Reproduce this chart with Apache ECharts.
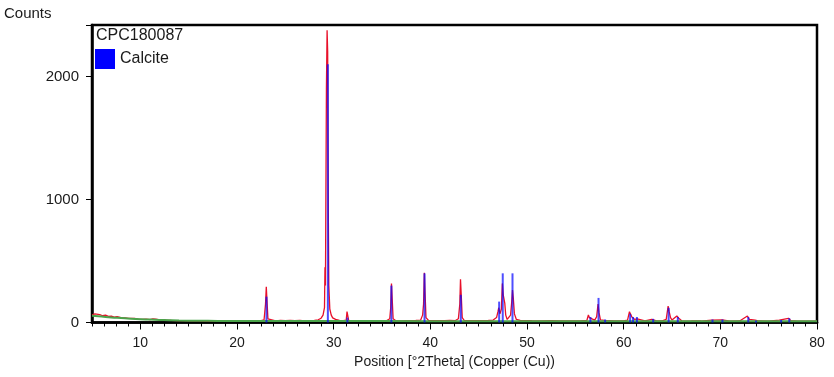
<!DOCTYPE html>
<html>
<head>
<meta charset="utf-8">
<script src="https://cdn.jsdelivr.net/npm/echarts@6/dist/echarts.min.js"></script>
<style>
html,body{margin:0;padding:0;background:#fff;}
#chart{width:834px;height:377px;}
</style>
</head>
<body>
<div id="chart"></div>
<script>
// Observed pattern (red)
const obsTheta = [5.0,5.3,5.5,5.8,6.1,6.4,6.7,7.0,7.3,7.6,8.0,8.4,8.8,8.9,9.0,9.4,9.8,10.2,10.6,11.0,11.3,11.6,12.0,12.4,12.7,13.2,13.8,14.5,15.2,16.0,17.0,18.0,19.0,19.5,20.0,20.5,21.0,21.5,22.0,22.5,22.8,22.95,23.03,23.1,23.2,23.4,24.0,24.5,25.0,25.5,26.0,26.5,27.0,27.5,28.0,28.4,28.7,28.9,29.05,29.1,29.15,29.25,29.32,29.38,29.42,29.45,29.5,29.6,29.75,29.9,30.2,30.6,31.0,31.3,31.38,31.45,31.55,32.0,32.5,33.0,33.5,34.0,34.5,35.0,35.5,35.8,35.9,35.98,36.05,36.15,36.4,37.0,37.5,38.0,38.5,39.0,39.2,39.3,39.38,39.45,39.55,39.8,40.5,41.0,41.5,42.0,42.6,42.9,43.05,43.12,43.2,43.3,43.5,44.0,44.5,45.0,45.5,46.0,46.5,46.85,47.0,47.08,47.2,47.35,47.45,47.55,47.7,47.8,47.95,48.1,48.3,48.42,48.5,48.58,48.7,48.9,49.3,49.8,50.5,51.5,52.5,53.5,54.5,55.5,56.2,56.35,56.45,56.6,57.0,57.2,57.35,57.45,57.6,58.0,58.1,58.2,59.0,60.0,60.4,60.6,60.7,60.85,61.0,61.15,61.4,61.6,62.2,62.9,63.1,63.4,64.0,64.4,64.6,64.7,64.85,65.0,65.5,65.7,66.0,67.0,68.0,69.1,69.3,70.2,70.4,71.0,72.0,72.8,73.0,73.6,74.0,75.0,76.1,76.3,77.05,77.3,78.0,79.0,80.0];
const obsCounts = [62,70,58,64,55,60,50,52,44,47,40,38,34,48,30,33,28,26,27,24,30,28,22,24,18,17,16,15,14,13,12,12,11,16,13,14,15,14,16,15,22,150,291,180,30,16,14,18,15,17,15,18,14,16,18,22,35,60,120,450,300,1900,2378,2200,1400,850,300,110,60,38,25,18,16,20,88,60,18,15,16,14,15,14,15,14,16,30,120,318,200,30,16,14,16,15,17,20,60,150,405,250,40,18,15,16,15,17,16,30,150,351,220,40,18,15,16,15,16,17,20,40,90,120,70,110,318,220,158,60,25,22,60,169,264,200,70,25,18,16,15,14,15,14,13,14,18,61,40,25,20,45,150,80,22,18,30,15,13,14,20,88,70,45,40,25,30,15,13,26,20,13,14,25,134,90,40,20,53,35,14,12,12,20,12,22,12,11,12,53,25,20,12,11,20,12,34,15,11,10,10];

// Background (green)
const bgTheta = [5,6,7,8,9,10,11,12,13,14,16,18,20,25,30,40,50,60,70,80];
const bgCounts = [55,48,41,36,31,27,24,21,18,16,14,13,12,12,12,11,11,11,10,10];

// Calcite reference lines (blue)
const refTheta = [23.05,29.40,31.42,35.97,39.40,43.15,47.12,47.49,48.50,56.56,57.40,58.08,60.67,60.97,61.37,63.05,64.65,65.60,69.19,70.22,72.89,73.69,76.29,77.13];
const refCounts = [210,2100,40,300,400,225,170,400,400,45,200,25,70,45,45,30,120,45,25,25,45,15,20,35];

const xTickLabels = [10,20,30,40,50,60,70,80];
const yTickLabels = [0,1000,2000];

const font = 'Liberation Sans, Arial, sans-serif';
const zip = (a,b) => a.map((v,i)=>[v,b[i]]);

const chart = echarts.init(document.getElementById('chart'), null, {renderer:'canvas'});
chart.setOption({
  animation: false,
  backgroundColor: '#ffffff',
  title: [
    {text:'Counts', left:4, top:6, padding:0, textStyle:{fontFamily:font, fontSize:15, fontWeight:'normal', color:'#1a1a1a'}},
    {text:'CPC180087', left:96, top:28, padding:0, textStyle:{fontFamily:font, fontSize:16, fontWeight:'normal', color:'#1a1a1a'}}
  ],
  legend: {
    left: 95, top: 49, padding:0, orient:'vertical', itemWidth:20, itemHeight:20, itemGap:4,
    textStyle:{fontFamily:font, fontSize:16, color:'#1a1a1a'},
    data:[{name:'Calcite', icon:'rect', itemStyle:{color:'#0000ff', opacity:1}}],
    selectedMode:false
  },
  grid: {left:92, right:17, top:25, bottom:54.5, show:true, borderColor:'#000', borderWidth:2.5, backgroundColor:'transparent'},
  xAxis: [{
    type:'value', min:5, max:80, interval:1.25, position:'bottom',
    name:'Position [°2Theta] (Copper (Cu))', nameLocation:'middle', nameGap:33,
    nameTextStyle:{fontFamily:font, fontSize:14, color:'#1a1a1a'},
    axisLine:{show:true, onZero:false, lineStyle:{color:'#000', width:2.5}},
    axisTick:{show:true, length:4, lineStyle:{color:'#000', width:1}},
    axisLabel:{fontFamily:font, fontSize:14, color:'#1a1a1a', margin:14,
      formatter: v => (xTickLabels.indexOf(Math.round(v*100)/100) >= 0 ? String(v) : '')},
    splitLine:{show:false}
  },{
    type:'value', min:5, max:80, interval:1.25, position:'bottom',
    axisLine:{show:false},
    axisTick:{show:true, length:7, customValues: xTickLabels, lineStyle:{color:'#000', width:1}},
    axisLabel:{show:false},
    splitLine:{show:false}
  }],
  yAxis: {
    type:'value', min:0, max:2420, interval:1000,
    axisLine:{show:true, onZero:false, lineStyle:{color:'#000', width:2.5}},
    axisTick:{show:true, length:6, lineStyle:{color:'#000', width:1}},
    axisLabel:{fontFamily:font, fontSize:15, color:'#1a1a1a', margin:13,
      formatter: v => (yTickLabels.indexOf(v) >= 0 ? String(v) : '')},
    splitLine:{show:false}
  },
  series: [
    {type:'line', name:'Observed', data: zip(obsTheta, obsCounts), showSymbol:false, symbol:'none',
     lineStyle:{color:'#e8102a', width:1.3}, xAxisIndex:0, z:2},
    {type:'line', name:'Background', data: zip(bgTheta, bgCounts), showSymbol:false, symbol:'none', smooth:true,
     lineStyle:{color:'#4aa34a', width:2}, xAxisIndex:0, z:3},
    {type:'bar', name:'Calcite', data: zip(refTheta, refCounts), barWidth:2, xAxisIndex:0,
     itemStyle:{color:'#0a0aff', opacity:0.72}, z:4}
  ]
});
</script>
</body>
</html>
